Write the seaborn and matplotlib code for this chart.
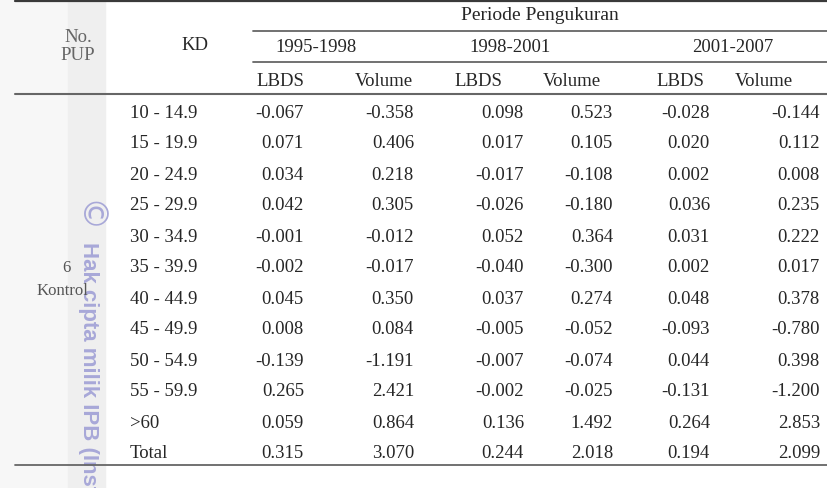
import matplotlib
matplotlib.use("Agg")
import matplotlib.pyplot as plt
import seaborn as sns
import pandas as pd

# Table contents
kd_classes = ["10 - 14.9", "15 - 19.9", "20 - 24.9", "25 - 29.9", "30 - 34.9", "35 - 39.9",
              "40 - 44.9", "45 - 49.9", "50 - 54.9", "55 - 59.9", ">60", "Total"]
periods = ["1995-1998", "1998-2001", "2001-2007"]
lbds_9598 = ["-0.067", "0.071", "0.034", "0.042", "-0.001", "-0.002",
             "0.045", "0.008", "-0.139", "0.265", "0.059", "0.315"]
vol_9598 = ["-0.358", "0.406", "0.218", "0.305", "-0.012", "-0.017",
            "0.350", "0.084", "-1.191", "2.421", "0.864", "3.070"]
lbds_9801 = ["0.098", "0.017", "-0.017", "-0.026", "0.052", "-0.040",
             "0.037", "-0.005", "-0.007", "-0.002", "0.136", "0.244"]
vol_9801 = ["0.523", "0.105", "-0.108", "-0.180", "0.364", "-0.300",
            "0.274", "-0.052", "-0.074", "-0.025", "1.492", "2.018"]
lbds_0107 = ["-0.028", "0.020", "0.002", "0.036", "0.031", "0.002",
             "0.048", "-0.093", "0.044", "-0.131", "0.264", "0.194"]
vol_0107 = ["-0.144", "0.112", "0.008", "0.235", "0.222", "0.017",
            "0.378", "-0.780", "0.398", "-1.200", "2.853", "2.099"]

df = pd.DataFrame({
    "KD": kd_classes,
    "LBDS 1995-1998": lbds_9598, "Volume 1995-1998": vol_9598,
    "LBDS 1998-2001": lbds_9801, "Volume 1998-2001": vol_9801,
    "LBDS 2001-2007": lbds_0107, "Volume 2001-2007": vol_0107,
})

sns.set_theme(style="white")
plt.rcParams['font.family'] = ['Liberation Serif', 'DejaVu Serif']

fig = plt.figure(figsize=(8.28, 4.88), dpi=100)
ax = fig.add_axes([0, 0, 1, 1])
ax.set_xlim(0, 828)
ax.set_ylim(488, 0)
ax.axis("off")

# scanned page background bands
ax.axvspan(0, 68, color="#f7f7f7", zorder=0)
ax.axvspan(68, 105, color="#efefef", zorder=0)

fs = 13.5
line_col = "#3a3a3a"

# horizontal rules
ax.plot([15, 828], [1, 1], color=line_col, lw=1.6)
ax.plot([253, 828], [31, 31], color="#666666", lw=1.3)
ax.plot([253, 828], [62, 62], color="#666666", lw=1.3)
ax.plot([15, 828], [93.5, 93.5], color="#666666", lw=1.5)
ax.plot([15, 828], [465, 465], color="#666666", lw=1.3)

# watermark
ax.text(88, 200, "\u00a9", rotation=-90, ha="center", va="top",
        fontsize=24, color="#a8a8d8", family=["DejaVu Sans"], zorder=1)
ax.text(88, 242, "Hak cipta milik IPB (Institut", rotation=-90, ha="center", va="top",
        fontsize=16, fontweight="bold", color="#a8a8d8",
        family=["Liberation Sans", "DejaVu Sans"], zorder=1)

# header
ax.text(78, 37, "No.", ha="center", va="center", fontsize=fs, color="#666666")
ax.text(78, 55, "PUP", ha="center", va="center", fontsize=fs, color="#666666")
ax.text(195, 46, "KD", ha="center", va="center", fontsize=fs)
ax.text(540, 15, "Periode Pengukuran", ha="center", va="center", fontsize=fs + 0.5)
period_x = [316, 510, 733]
for px, p in zip(period_x, periods):
    ax.text(px, 47, p, ha="center", va="center", fontsize=fs)
sub_x = [280, 384, 478, 572, 680, 764]
for i, sx in enumerate(sub_x):
    ax.text(sx, 81, "LBDS" if i % 2 == 0 else "Volume", ha="center", va="center", fontsize=fs)

# body
row_y0, row_dy = 113, 31
col_right = [304, 414, 524, 613, 710, 820]
value_cols = list(df.columns[1:])
for r, row in df.iterrows():
    y = row_y0 + r * row_dy
    ax.text(130, y, row["KD"], ha="left", va="center", fontsize=fs, zorder=3)
    for cx, c in zip(col_right, value_cols):
        ax.text(cx, y, row[c], ha="right", va="center", fontsize=fs, zorder=3)

ax.text(66, 268, "6", ha="center", va="center", fontsize=12, color="#555555", zorder=3)
ax.text(62, 291, "Kontrol", ha="center", va="center", fontsize=12, color="#555555", zorder=3)

fig.savefig("out.png", dpi=100)
